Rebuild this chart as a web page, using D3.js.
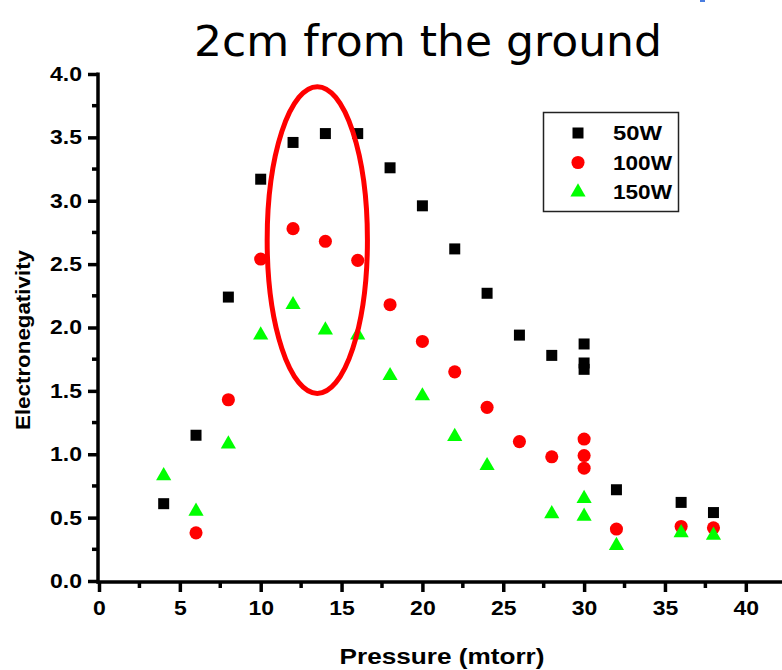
<!DOCTYPE html>
<html>
<head>
<meta charset="utf-8">
<script src="https://cdn.jsdelivr.net/npm/d3@7"></script>
<style>
  body { margin: 0; background: #fff; }
  text { font-family: "Liberation Sans", Arial, sans-serif; }
</style>
</head>
<body>
<script>
// pressure (mtorr) for each series
var p50 = [4, 6, 8, 10, 12, 14, 16, 18, 20, 22, 24, 26, 28, 30, 30, 30, 32, 36, 38];
var e50 = [0.61, 1.15, 2.24, 3.17, 3.46, 3.53, 3.53, 3.26, 2.96, 2.62, 2.27, 1.94, 1.78, 1.87, 1.72, 1.67, 0.72, 0.62, 0.54];

var p100 = [6, 8, 10, 12, 14, 16, 18, 20, 22, 24, 26, 28, 30, 30, 30, 32, 36, 38];
var e100 = [0.38, 1.43, 2.54, 2.78, 2.68, 2.53, 2.18, 1.89, 1.65, 1.37, 1.10, 0.98, 1.12, 0.99, 0.89, 0.41, 0.43, 0.42];

var p150 = [4, 6, 8, 10, 12, 14, 16, 18, 20, 22, 24, 28, 30, 30, 32, 36, 38];
var e150 = [0.83, 0.55, 1.08, 1.94, 2.18, 1.98, 1.94, 1.62, 1.46, 1.14, 0.91, 0.53, 0.65, 0.51, 0.28, 0.38, 0.36];

var seriesNames = ["50W", "100W", "150W"];
var xTicks = [0, 5, 10, 15, 20, 25, 30, 35, 40];
var yTicks = [0.0, 0.5, 1.0, 1.5, 2.0, 2.5, 3.0, 3.5, 4.0];

// highlighted region (data units): center x, center y, half-width, half-height
var ring = [13.5, 2.69, 3.1, 1.21];

var w = 782, h = 670;
var svg = d3.select("body").append("svg").attr("width", w).attr("height", h);

var x = d3.scaleLinear().domain([0, 42.3]).range([99, 783]);
var y = d3.scaleLinear().domain([0, 4]).range([581, 74]);

var sx = 1.15; // text in the picture is a bit wide

// title
svg.append("text")
  .attr("x", 428).attr("y", 56)
  .attr("text-anchor", "middle")
  .attr("font-size", "42px")
  .style("font-family", "'Comic Sans MS', 'DejaVu Sans', sans-serif")
  .attr("textLength", 468).attr("lengthAdjust", "spacingAndGlyphs")
  .text("2cm from the ground");

// little blue mark top right
svg.append("rect").attr("x", 700).attr("y", 0).attr("width", 5).attr("height", 2).attr("fill", "#4a7de0");

// minor ticks
var xMinor = d3.range(2.5, 42, 5);
var yMinor = d3.range(0.25, 4, 0.5);
svg.selectAll(".xm").data(xMinor).enter().append("line")
  .attr("x1", function(d) { return x(d); }).attr("x2", function(d) { return x(d); })
  .attr("y1", 582).attr("y2", 588)
  .attr("stroke", "#000").attr("stroke-width", 3.5);
svg.selectAll(".ym").data(yMinor).enter().append("line")
  .attr("y1", function(d) { return y(d); }).attr("y2", function(d) { return y(d); })
  .attr("x1", 98).attr("x2", 92)
  .attr("stroke", "#000").attr("stroke-width", 3.5);

// axes
var xAxis = svg.append("g").attr("transform", "translate(0,582)")
  .call(d3.axisBottom(x).tickValues(xTicks).tickSize(10).tickSizeOuter(0).tickPadding(9));
var yAxis = svg.append("g").attr("transform", "translate(98,0)")
  .call(d3.axisLeft(y).tickValues(yTicks).tickSize(10).tickSizeOuter(0).tickPadding(6)
    .tickFormat(d3.format(".1f")));

[xAxis, yAxis].forEach(function(a) {
  a.select(".domain").remove();
  a.selectAll("line").attr("stroke", "#000").attr("stroke-width", 3.5);
  a.selectAll("text").attr("font-size", "20px").attr("font-weight", "bold").attr("fill", "#000");
});
xAxis.selectAll("text").attr("transform", "scale(" + sx + ",1)");
yAxis.selectAll("text").attr("x", -16 / sx).attr("transform", "scale(" + sx + ",1)");

svg.append("line").attr("x1", 98).attr("x2", 98).attr("y1", 72.5).attr("y2", 583.5)
  .attr("stroke", "#000").attr("stroke-width", 3.5);
svg.append("line").attr("x1", 96.5).attr("x2", 782).attr("y1", 582).attr("y2", 582)
  .attr("stroke", "#000").attr("stroke-width", 3.5);

// axis titles
svg.append("text")
  .attr("x", 442).attr("y", 664)
  .attr("text-anchor", "middle")
  .attr("font-size", "22px").attr("font-weight", "bold")
  .attr("textLength", 205).attr("lengthAdjust", "spacingAndGlyphs")
  .text("Pressure (mtorr)");
svg.append("text")
  .attr("transform", "translate(30,340) rotate(-90)")
  .attr("text-anchor", "middle")
  .attr("font-size", "21px").attr("font-weight", "bold")
  .attr("textLength", 180).attr("lengthAdjust", "spacingAndGlyphs")
  .text("Electronegativity");

// markers
var symSquare = d3.symbol().type(d3.symbolSquare).size(121);
var symCircle = d3.symbol().type(d3.symbolCircle).size(135);
var symTri = d3.symbol().type(d3.symbolTriangle).size(100);

function plot(px, py, sym, color) {
  svg.append("g").selectAll("path")
    .data(px)
    .enter()
    .append("path")
    .attr("d", sym)
    .attr("transform", function(d, i) {
      return "translate(" + x(d) + "," + y(py[i]) + ")";
    })
    .attr("fill", color);
}
plot(p50, e50, symSquare, "#000000");
plot(p100, e100, symCircle, "#ff0000");
plot(p150, e150, symTri, "#00ff00");

// legend
var legend = svg.append("g");
legend.append("rect")
  .attr("x", 543.5).attr("y", 112.5).attr("width", 135).attr("height", 99)
  .attr("fill", "none").attr("stroke", "#222").attr("stroke-width", 1.5);
var syms = [symSquare, symCircle, symTri];
var cols = ["#000000", "#ff0000", "#00ff00"];
var lw = [49, 59, 59];
legend.selectAll(".lg").data(seriesNames).enter().append("g")
  .attr("transform", function(d, i) { return "translate(0," + (133 + i * 29.5) + ")"; })
  .each(function(d, i) {
    var g = d3.select(this);
    g.append("path").attr("d", syms[i]).attr("transform", "translate(578,0)").attr("fill", cols[i]);
    g.append("text").attr("x", 613).attr("y", 7)
      .attr("font-size", "20px").attr("font-weight", "bold")
      .attr("textLength", lw[i]).attr("lengthAdjust", "spacingAndGlyphs")
      .text(d);
  });

// red ellipse annotation
svg.append("ellipse")
  .attr("cx", x(ring[0])).attr("cy", y(ring[1]))
  .attr("rx", x(ring[0] + ring[2]) - x(ring[0]))
  .attr("ry", y(ring[1]) - y(ring[1] + ring[3]))
  .attr("fill", "none").attr("stroke", "#ff0000").attr("stroke-width", 5);
</script>
</body>
</html>
